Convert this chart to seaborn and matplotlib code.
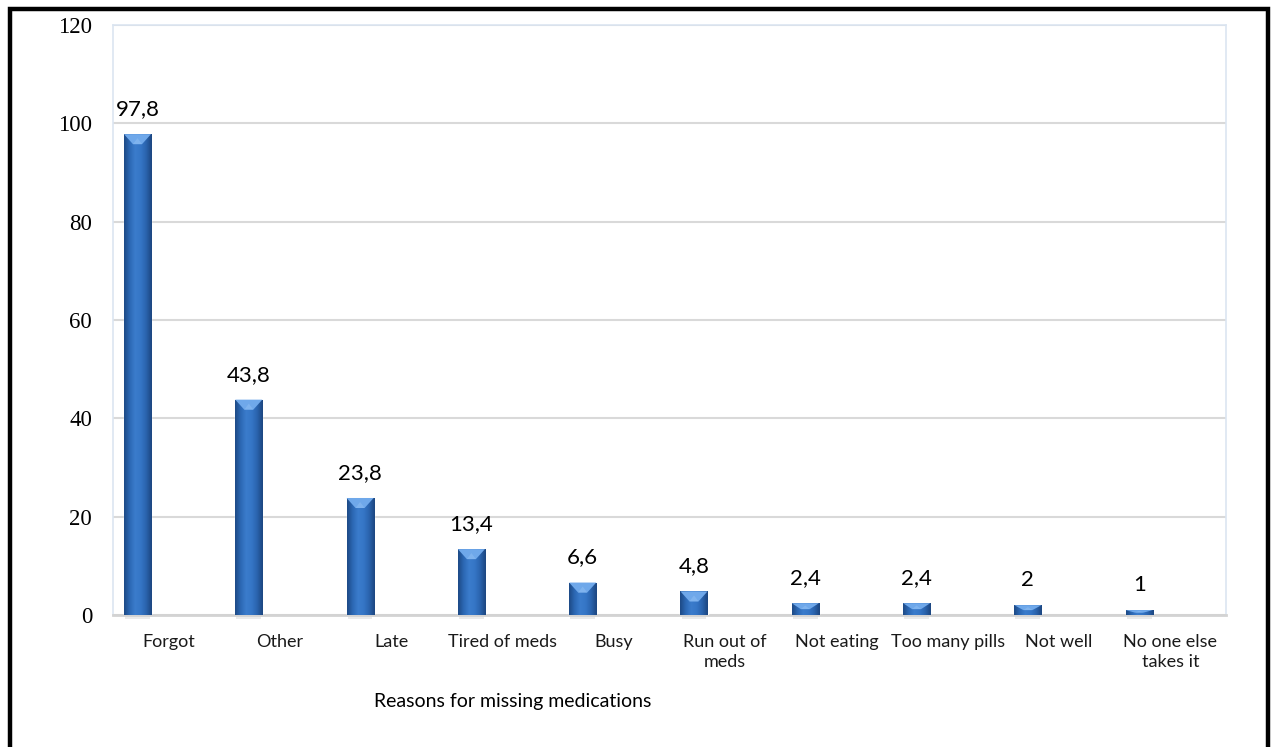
import numpy as np
import pandas as pd
import seaborn as sns
import matplotlib
matplotlib.use("Agg")
import matplotlib.pyplot as plt
from matplotlib.patches import Rectangle, Polygon
from matplotlib.colors import LinearSegmentedColormap

# Data
reasons = ["Forgot", "Other", "Late", "Tired of meds", "Busy", "Run out of\nmeds",
           "Not eating", "Too many pills", "Not well", "No one else\ntakes it"]
percent = [97.8, 43.8, 23.8, 13.4, 6.6, 4.8, 2.4, 2.4, 2, 1]
value_labels = ["97,8", "43,8", "23,8", "13,4", "6,6", "4,8", "2,4", "2,4", "2", "1"]
y_ticks = [0, 20, 40, 60, 80, 100, 120]
x_title = "Reasons for missing medications"

sns.set_theme(style="white")
plt.rcParams["font.family"] = ["Lato", "DejaVu Sans"]

W, H = 1271, 747
fig = plt.figure(figsize=(W / 100, H / 100), dpi=100)
fig.patch.set_facecolor("white")
ax = fig.add_axes([113 / W, 1 - 615 / H, (1226 - 113) / W, (615 - 25) / H])

# bars sit left of each category slot (empty second series slot on the right)
slot = np.arange(len(reasons))
df = pd.DataFrame({"pos": slot - 0.28, "percent": percent})
sns.barplot(data=df, x="pos", y="percent", native_scale=True, width=0.243,
            color="#2f6cb9", saturation=1, ax=ax, zorder=3)

ax.set_xlim(-0.5, len(reasons) - 0.5)
ax.set_ylim(0, 120)

# bevelled look: horizontal shading + light top facet
body = LinearSegmentedColormap.from_list(
    "body", ["#1d4a86", "#2c68b4", "#3b7ccc", "#3576c6", "#2a63ad", "#1c4680"])
grad = np.linspace(0, 1, 64).reshape(1, -1)
px_per_y = (615 - 25) / 120
px_per_x = (1226 - 113) / len(reasons)
for p in list(ax.patches):
    x0, w, h = p.get_x(), p.get_width(), p.get_height()
    im = ax.imshow(grad, cmap=body, extent=[x0, x0 + w, 0, h], aspect="auto",
                   zorder=4, interpolation="bicubic")
    im.set_clip_path(p)
    bh = min(10 / px_per_y, h * 0.5)
    bw = 9 / px_per_x
    ax.add_patch(Polygon([[x0, h], [x0 + w, h], [x0 + w - bw, h - bh], [x0 + bw, h - bh]],
                         closed=True, facecolor="#6fa8ea", edgecolor="none", zorder=5))
    ax.add_patch(Polygon([[x0 + bw, h - bh], [x0 + w - bw, h - bh], [x0 + w / 2, h - bh * 0.4]],
                         closed=True, facecolor="#8bbcf2", edgecolor="none", zorder=5, alpha=0.6))
    # soft shadow at the base
    ax.add_patch(Rectangle((x0 + 0.01, -0.9), w - 0.02, 0.9, facecolor="#d8d8d8",
                           edgecolor="none", zorder=2, clip_on=False, alpha=0.5))

ax.set_xlim(-0.5, len(reasons) - 0.5)
ax.set_ylim(0, 120)

# value labels
for x, v, lbl in zip(slot - 0.28, percent, value_labels):
    ax.annotate(lbl, (x, v), xytext=(0, 18), textcoords="offset points",
                ha="center", va="center", fontsize=16, color="black", zorder=6)

# axes styling
ax.set_yticks(y_ticks)
ax.set_yticklabels([str(t) for t in y_ticks], family=["Liberation Serif"], fontsize=16.5,
                   color="black")
ax.set_xticks(slot)
ax.set_xticklabels(reasons, fontsize=13, color="#1a1a1a", linespacing=1.3)
ax.tick_params(axis="both", length=0)
ax.tick_params(axis="y", pad=15)
ax.tick_params(axis="x", pad=14)
for lab in ax.get_xticklabels():
    lab.set_va("top")
ax.set_xlabel("")
ax.set_ylabel("")
ax.yaxis.grid(True, color="#d9d9d9", lw=1.5, zorder=0)
ax.set_axisbelow(True)
for side in ["left", "right", "top"]:
    ax.spines[side].set_color("#dbe5f1")
    ax.spines[side].set_linewidth(1.2)
ax.spines["bottom"].set_color("#d3d3d3")
ax.spines["bottom"].set_linewidth(2)

fig.text(513 / W, 1 - 702 / H, x_title, ha="center", va="center", fontsize=14,
         color="black")

# outer frame
fig.patches.append(Rectangle((10 / W, -0.05), (1268 - 10) / W, 1 - 8.5 / H + 0.05,
                             transform=fig.transFigure, fill=False,
                             edgecolor="black", linewidth=3.2, zorder=10))

fig.savefig("out.png", dpi=100)
